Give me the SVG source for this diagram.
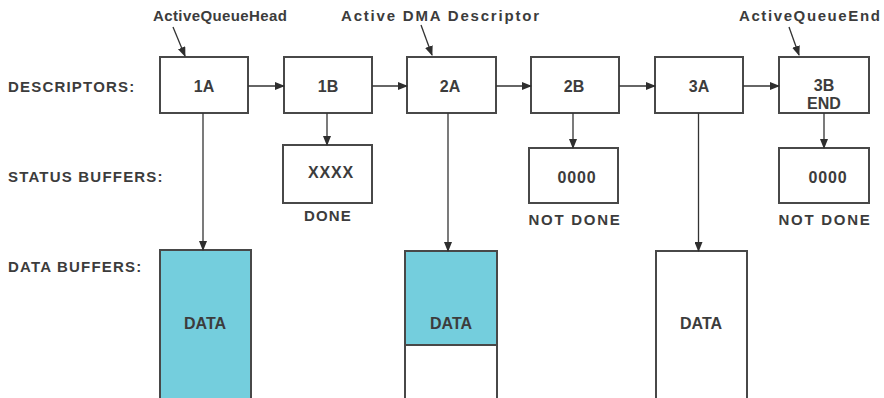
<svg xmlns="http://www.w3.org/2000/svg" width="884" height="398" viewBox="0 0 884 398">
<defs>
<marker id="ah" markerUnits="userSpaceOnUse" markerWidth="10" markerHeight="8" refX="9" refY="4" orient="auto">
<path d="M0,0 L10,4 L0,8 Z" fill="#2e2e2e"/>
</marker>
<style>
text{font-family:"Liberation Sans",Arial,sans-serif;font-weight:bold;fill:#3c3c3c;font-size:15px}
.box{fill:#fff;stroke:#484848;stroke-width:2}
.data{fill:#74cedd;stroke:#484848;stroke-width:2}
.c{fill:none;stroke:#333;stroke-width:1.3;marker-end:url(#ah)}
.side{letter-spacing:1.2px}
.mid{text-anchor:middle}
.big{font-size:16px}
</style>
</defs>
<rect width="884" height="398" fill="#fff"/>
<g id="labels">
<text class="side" x="8" y="92">DESCRIPTORS:</text>
<text class="side" x="8" y="182">STATUS BUFFERS:</text>
<text class="side" x="8" y="272">DATA BUFFERS:</text>
</g>
<g id="ptr-head"><text x="153" y="21" style="letter-spacing:0.4px">ActiveQueueHead</text></g>
<g id="ptr-dma"><text x="341" y="21" style="letter-spacing:1.8px">Active DMA Descriptor</text></g>
<g id="ptr-end"><text x="739" y="21" style="letter-spacing:1.6px">ActiveQueueEnd</text></g>
<g id="d1A"><rect class="box" x="160" y="57" width="88" height="56"/><text class="mid big" x="204" y="92">1A</text></g>
<g id="d1B"><rect class="box" x="284" y="57" width="88" height="56"/><text class="mid big" x="328" y="92">1B</text></g>
<g id="d2A"><rect class="box" x="407" y="57" width="89" height="56"/><text class="mid big" x="450" y="92">2A</text></g>
<g id="d2B"><rect class="box" x="531" y="57" width="88" height="56"/><text class="mid big" x="574" y="92">2B</text></g>
<g id="d3A"><rect class="box" x="655" y="57" width="88" height="56"/><text class="mid big" x="699" y="92">3A</text></g>
<g id="d3B"><rect class="box" x="779" y="57" width="90" height="56"/><text class="mid big" x="824" y="91">3B</text><text class="mid big" x="824" y="109">END</text></g>
<g id="s1B"><rect class="box" x="283" y="145" width="89" height="58"/><text class="mid big" x="331" y="178" style="letter-spacing:0.8px">XXXX</text><text class="mid" x="328" y="221" style="letter-spacing:1.2px">DONE</text></g>
<g id="s2B"><rect class="box" x="529" y="148" width="89" height="55"/><text class="mid big" x="577" y="183" style="letter-spacing:0.8px">0000</text><text class="mid" x="575" y="225" style="letter-spacing:1.75px">NOT DONE</text></g>
<g id="s3B"><rect class="box" x="779" y="148" width="90" height="55"/><text class="mid big" x="828" y="183" style="letter-spacing:0.8px">0000</text><text class="mid" x="825" y="225" style="letter-spacing:1.75px">NOT DONE</text></g>
<g id="b1"><rect class="data" x="160" y="250" width="91" height="160"/><text class="mid big" x="205" y="329">DATA</text></g>
<g id="b2"><rect class="box" x="405" y="251" width="92" height="160"/><rect class="data" x="405" y="251" width="92" height="94"/><text class="mid big" x="451" y="329">DATA</text></g>
<g id="b3"><rect class="box" x="656" y="251" width="91" height="160"/><text class="mid big" x="701" y="329">DATA</text></g>
<g id="connectors">
<line class="c" x1="248" y1="86" x2="284" y2="86"/>
<line class="c" x1="372" y1="86" x2="407" y2="86"/>
<line class="c" x1="496" y1="86" x2="531" y2="86"/>
<line class="c" x1="619" y1="86" x2="655" y2="86"/>
<line class="c" x1="743" y1="86" x2="779" y2="86"/>
<line class="c" x1="203" y1="113" x2="203" y2="250"/>
<line class="c" x1="448" y1="113" x2="448" y2="251"/>
<line class="c" x1="698.5" y1="113" x2="698.5" y2="251"/>
<line class="c" x1="327" y1="113" x2="327" y2="145"/>
<line class="c" x1="573" y1="113" x2="573" y2="148"/>
<line class="c" x1="824" y1="113" x2="824" y2="148"/>
<line class="c" x1="173" y1="27" x2="185" y2="56"/>
<line class="c" x1="421" y1="25" x2="432" y2="55"/>
<line class="c" x1="789" y1="27" x2="799" y2="55"/>
</g>
</svg>
